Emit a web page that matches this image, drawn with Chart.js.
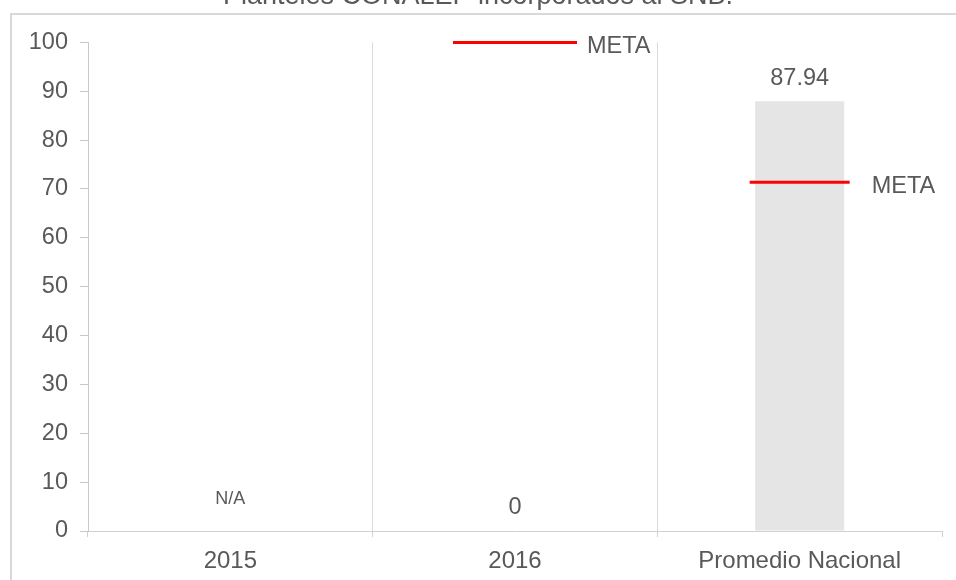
<!DOCTYPE html>
<html>
<head>
<meta charset="utf-8">
<script src="https://cdn.jsdelivr.net/npm/chart.js@4.4.0/dist/chart.umd.min.js"></script>
<style>
    body { margin: 0; background: #fff; overflow: hidden; }
    #frame { position: absolute; left: 10px; top: 13px; width: 1000px; height: 700px; border: 2px solid #d9d9d9; }
    #wrap { position: absolute; left: 0; top: -20px; width: 956px; height: 600px; }
</style>
</head>
<body>
<div id="frame"></div>
<div id="wrap"><canvas id="chart"></canvas></div>
<script>
// ---------- Data ----------
const categories = ["2015", "2016", "Promedio Nacional"];
const values = [null, 0, 87.94];      // null = N/A
const metas = [null, 100, 71.4];      // META marks
const metaWidths = [0, 62, 50];       // half length of each META mark
const yMin = 0, yMax = 100, yStep = 10;

const textColor = "#595959";
const fontFamily = "'Liberation Sans', Arial, sans-serif";

// ---------- Value + META labels ----------
const labelPlugin = {
    id: "labels",
    afterDatasetsDraw(chart) {
        const ctx = chart.ctx;
        const yScale = chart.scales.y;
        ctx.save();
        ctx.fillStyle = textColor;
        ctx.textAlign = "center";
        ctx.textBaseline = "middle";

        // bar values
        chart.getDatasetMeta(0).data.forEach((bar, i) => {
            const v = values[i];
            if (v === null) {
                ctx.font = "18px " + fontFamily;
                ctx.fillText("N/A", bar.x, yScale.getPixelForValue(0) - 32);
            } else {
                ctx.font = "23.5px " + fontFamily;
                ctx.fillText(String(v), bar.x, bar.y - 23);
            }
        });

        // META text
        ctx.textAlign = "left";
        ctx.font = "23.5px " + fontFamily;
        chart.getDatasetMeta(1).data.forEach((pt, i) => {
            if (metas[i] === null) return;
            ctx.fillText("META", pt.x + 72, pt.y + 4);
        });
        ctx.restore();
    }
};

const chart = new Chart(document.getElementById("chart"), {
    data: {
        labels: categories,
        datasets: [
            {
                type: "bar",
                data: values,
                order: 2,
                backgroundColor: "#e5e5e5",
                barPercentage: 0.313,
                categoryPercentage: 1
            },
            {
                type: "line",
                data: metas,
                order: 1,
                showLine: false,
                clip: false,
                pointStyle: "line",
                pointRadius: metaWidths,
                pointBorderWidth: 3,
                pointBorderColor: "#ff0000",
                pointBackgroundColor: "#ff0000"
            }
        ]
    },
    options: {
        responsive: true,
        maintainAspectRatio: false,
        animation: false,
        layout: { autoPadding: false, padding: { left: 14, right: 14, top: 0, bottom: 0 } },
        plugins: {
            legend: { display: false },
            tooltip: { enabled: false },
            title: {
                display: true,
                text: "Planteles CONALEP incorporados al SNB.",
                color: textColor,
                font: { family: fontFamily, size: 27, weight: "normal" },
                padding: { top: 0, bottom: 30 }
            }
        },
        scales: {
            x: {
                grid: {
                    offset: true,
                    drawOnChartArea: true,
                    color: (c) => (c.index > 0 && c.index < categories.length) ? "#d9d9d9" : "rgba(0,0,0,0)",
                    tickColor: "#d0d0d0",
                    tickLength: 6
                },
                border: { display: true, color: "#d0d0d0", width: 1 },
                ticks: { color: textColor, font: { family: fontFamily, size: 24 }, padding: 10, maxRotation: 0 },
                afterFit: (s) => { s.height = 49; s.paddingLeft = 0; s.paddingRight = 0; }
            },
            y: {
                min: yMin,
                max: yMax,
                grid: { drawOnChartArea: false, tickLength: 8, tickColor: "#c8c8c8" },
                border: { display: true, color: "#c8c8c8", width: 1 },
                ticks: { stepSize: yStep, color: textColor, font: { family: fontFamily, size: 23.5 }, padding: 12 },
                afterFit: (s) => { s.width = 74; }
            }
        }
    },
    plugins: [labelPlugin]
});
</script>
</body>
</html>
